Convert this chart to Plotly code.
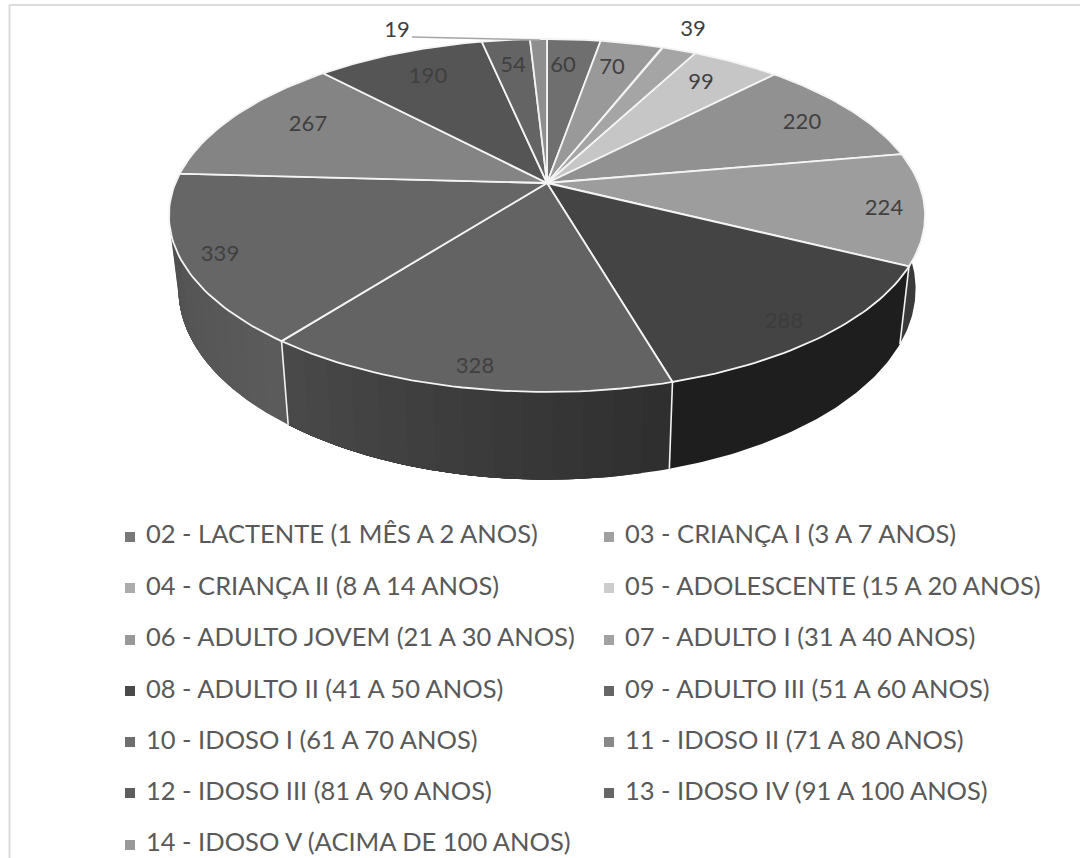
import math
import plotly.graph_objects as go

# ---- data ----
categories = [
    "02 - LACTENTE (1 MÊS A 2 ANOS)", "03 - CRIANÇA I (3 A 7 ANOS)",
    "04 - CRIANÇA II (8 A 14 ANOS)", "05 - ADOLESCENTE (15 A 20 ANOS)",
    "06 - ADULTO JOVEM (21 A 30 ANOS)", "07 - ADULTO I (31 A 40 ANOS)",
    "08 - ADULTO II (41 A 50 ANOS)", "09 - ADULTO III (51 A 60 ANOS)",
    "10 - IDOSO I (61 A 70 ANOS)", "11 - IDOSO II (71 A 80 ANOS)",
    "12 - IDOSO III (81 A 90 ANOS)", "13 - IDOSO IV (91 A 100 ANOS)",
    "14 - IDOSO V (ACIMA DE 100 ANOS)",
]
values = [60, 70, 39, 99, 220, 224, 288, 328, 339, 267, 190, 54, 19]

# ---- styles ----
top_colors = ["#6f6f6f", "#999999", "#a5a5a5", "#c6c6c6", "#919191", "#9d9d9d", "#444444",
              "#636363", "#666666", "#848484", "#555555", "#646464", "#8e8e8e"]
wall_from = [80, 100, 110, 130, 90, 58, 30, 46, 92, 90, 60, 70, 90]
wall_to = [80, 100, 110, 130, 90, 58, 30, 74, 76, 90, 60, 70, 90]
legend_colors = ["#787878", "#a0a0a0", "#ababab", "#cccccc", "#999999", "#a2a2a2", "#4a4a4a",
                 "#666666", "#6e6e6e", "#888888", "#5e5e5e", "#666666", "#999999"]
label_xy = [(563, 66), (612, 68), (693, 30), (701, 83), (802, 123), (884, 209), (784, 322),
            (475, 367), (220, 255), (308, 125), (428, 77), (513, 66), (397, 31)]
label_colors = ["#404040"] * 6 + ["#3c3c3c"] + ["#404040"] * 6
legend_marker_rows = [537, 588, 640, 691, 742, 793, 845]
legend_text_rows = [537, 589, 640, 692, 743, 794, 845]
legend_cols = [(130, 146), (609, 625)]
FONT = "Lato"

# ---- perspective of the pie disc ----
CX, CY, A, B, K = 547.0, 183.0, 371.6, 170.5, 0.184
SX, SY, CY2 = 0.975, 1.08, 254.0


def top(theta):
    u, v = math.sin(theta), -math.cos(theta)
    d = 1 - K * v
    return CX + A * u / d, CY + B * v / d


def bottom(theta):
    x, y = top(theta)
    return CX + SX * (x - CX), CY2 + SY * (y - CY)


def arc(a0, a1, fn, n):
    pts = [fn(a0 + (a1 - a0) * i / n) for i in range(n + 1)]
    return [p[0] for p in pts], [p[1] for p in pts]


total = sum(values)
edges = [0.0]
for val in values:
    edges.append(edges[-1] + val / total * 2 * math.pi)

fig = go.Figure()


def poly(xs, ys, color, line_color=None, width=0.0, name=None):
    fig.add_trace(go.Scatter(x=xs, y=ys, mode="lines", fill="toself", fillcolor=color,
                             line=dict(color=line_color or color, width=width),
                             hoverinfo="skip", showlegend=False, name=name))


# side walls, painted as overlapping bands to give the shading without seams
for i, name in enumerate(categories):
    a0, a1 = edges[i], edges[i + 1]
    bands = 14 if wall_from[i] != wall_to[i] else 1
    for b in range(bands):
        s0 = a0 + (a1 - a0) * b / bands
        g = round(wall_from[i] + (wall_to[i] - wall_from[i]) * (b + .5) / bands)
        tx, ty = arc(s0, a1, top, 60)
        bx, by = arc(s0, a1, bottom, 60)
        poly(tx + bx[::-1] + tx[:1], ty + by[::-1] + ty[:1], f"rgb({g},{g},{g})", name=name)

# white seams on the visible side
for i in range(1, len(values)):
    if -math.cos(edges[i]) > 0.1:
        p, q = top(edges[i]), bottom(edges[i])
        fig.add_trace(go.Scatter(x=[p[0], q[0]], y=[p[1], q[1]], mode="lines",
                                 line=dict(color="#f2f2f2", width=1.6),
                                 hoverinfo="skip", showlegend=False))

# top faces
for i, name in enumerate(categories):
    ax, ay = arc(edges[i], edges[i + 1], top, 40)
    poly([CX] + ax + [CX], [CY] + ay + [CY], top_colors[i], "#f4f4f4", 1.8, name)

# frame
fig.add_shape(type="line", x0=9.5, x1=9.5, y0=5, y1=858, line=dict(color="#dcdcdc", width=2))
fig.add_shape(type="line", x0=9.5, x1=1080, y0=5, y1=5, line=dict(color="#dcdcdc", width=2))
# leader line of the smallest slice
fig.add_shape(type="line", x0=412, x1=540, y0=37, y1=40, line=dict(color="#a6a6a6", width=1.4))

# value labels
fig.add_trace(go.Scatter(
    x=[p[0] for p in label_xy], y=[p[1] for p in label_xy], mode="text",
    text=[str(v) for v in values], textposition="middle center",
    textfont=dict(family=FONT, size=22, color=label_colors),
    hoverinfo="skip", showlegend=False))

# legend, two columns, filled row by row
for i, name in enumerate(categories):
    row, col = divmod(i, 2)
    mx, tx = legend_cols[col]
    fig.add_trace(go.Scatter(x=[mx], y=[legend_marker_rows[row]], mode="markers",
                             marker=dict(symbol="square", size=10, color=legend_colors[i]),
                             hoverinfo="skip", showlegend=False))
    fig.add_trace(go.Scatter(x=[tx], y=[legend_text_rows[row]], mode="text", text=[name],
                             textposition="middle right",
                             textfont=dict(family=FONT, size=25.5, color="#595959"),
                             hoverinfo="skip", showlegend=False))

fig.update_layout(
    width=1080, height=858, margin=dict(l=0, r=0, t=0, b=0),
    paper_bgcolor="white", plot_bgcolor="white", showlegend=False,
    xaxis=dict(range=[0, 1080], visible=False, fixedrange=True),
    yaxis=dict(range=[858, 0], visible=False, fixedrange=True),
)
fig.write_html("out.html", config={"displayModeBar": False},
               post_script="document.body.style.margin='0';document.body.style.overflow='hidden';")
